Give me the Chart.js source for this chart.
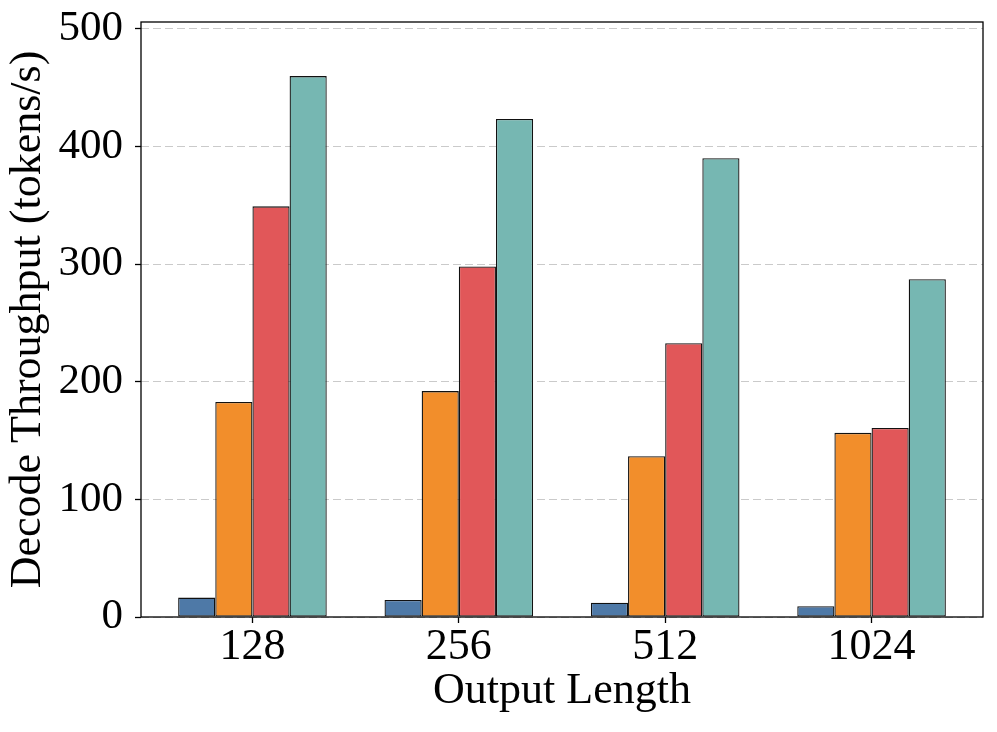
<!DOCTYPE html>
<html>
<head>
<meta charset="utf-8">
<script src="https://cdn.jsdelivr.net/npm/chart.js@4/dist/chart.umd.min.js"></script>
<style>
  html, body { margin: 0; padding: 0; background: #fff; }
  #wrap { width: 997px; height: 732px; position: relative; }
</style>
</head>
<body>
<div id="wrap"><canvas id="myChart"></canvas></div>
<script>
const categories = ["128", "256", "512", "1024"];
const seriesA = [16.5, 14.5, 12.2, 9.1];      // blue
const seriesB = [182.8, 192.0, 136.6, 156.5]; // orange
const seriesC = [349.0, 298.0, 232.7, 160.7]; // red
const seriesD = [459.7, 423.3, 390.0, 287.0]; // teal
const yTicks = [0, 100, 200, 300, 400, 500];

const colors = ["#4e79a7", "#f28e2b", "#e15759", "#76b7b2"];
const serif = "'Liberation Serif', 'Times New Roman', serif";

const toPoints = (arr) => arr.map((v, i) => ({ x: i, y: v }));

// full box around the plot area, drawn on top like matplotlib spines
const frame = {
  id: "frame",
  afterDraw(chart) {
    const { ctx, chartArea: a } = chart;
    ctx.save();
    ctx.strokeStyle = "#000";
    ctx.lineWidth = 1.3;
    ctx.strokeRect(a.left, a.top, a.right - a.left, a.bottom - a.top);
    ctx.restore();
  },
};

const ctx = document.getElementById("myChart");

new Chart(ctx, {
  type: "bar",
  data: {
    datasets: [seriesA, seriesB, seriesC, seriesD].map((s, k) => ({
      data: toPoints(s),
      backgroundColor: colors[k],
      borderColor: "#111",
      borderWidth: 1.3,
      borderSkipped: false,
      categoryPercentage: 0.72,
      barPercentage: 1,
    })),
  },
  options: {
    responsive: true,
    maintainAspectRatio: false,
    animation: false,
    layout: { padding: { left: 0, top: 22, right: 14, bottom: 0 } },
    plugins: {
      legend: { display: false },
      tooltip: { enabled: false },
    },
    scales: {
      x: {
        type: "linear",
        min: -0.54,
        max: 3.54,
        offset: false,
        afterBuildTicks: (scale) => {
          scale.ticks = categories.map((c, i) => ({ value: i }));
        },
        afterFit: (scale) => {
          scale.height = 115;
        },
        ticks: {
          callback: (v) => categories[v],
          color: "#000",
          font: { family: serif, size: 44, lineHeight: 1 },
          padding: 2.5,
          maxRotation: 0,
        },
        grid: {
          offset: false,
          drawOnChartArea: false,
          drawTicks: true,
          tickLength: 6,
          tickColor: "#000",
          tickWidth: 1.3,
        },
        border: { display: false },
        title: {
          display: true,
          text: "Output Length",
          color: "#000",
          font: { family: serif, size: 44, lineHeight: 1 },
          padding: { bottom: 18.5 },
        },
      },
      y: {
        min: 0,
        max: 505.7,
        z: 1,
        afterBuildTicks: (scale) => {
          scale.ticks = yTicks.map((v) => ({ value: v }));
        },
        afterFit: (scale) => {
          scale.width = 141;
        },
        ticks: {
          color: "#000",
          font: { family: serif, size: 43, lineHeight: 0.4 },
          padding: 12,
        },
        grid: {
          color: "rgba(150,150,150,0.5)",
          lineWidth: 1,
          tickLength: 6,
          tickColor: "#000",
          tickWidth: 1.3,
        },
        border: { display: false, dash: [8, 4] },
        title: {
          display: true,
          text: "Decode Throughput (tokens/s)",
          color: "#000",
          font: { family: serif, size: 44, lineHeight: 1 },
          padding: { top: 6.5 },
        },
      },
    },
  },
  plugins: [frame],
});
</script>
</body>
</html>
